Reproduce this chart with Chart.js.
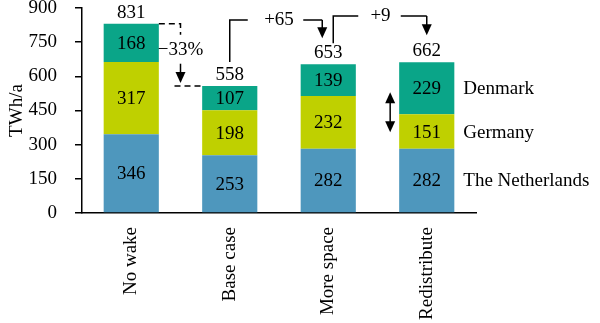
<!DOCTYPE html>
<html>
<head>
<meta charset="utf-8">
<script src="https://cdn.jsdelivr.net/npm/chart.js@4"></script>
<style>
  html, body { margin: 0; padding: 0; background: #fff; }
  #wrap { width: 600px; height: 323px; }
</style>
</head>
<body>
<div id="wrap"><canvas id="energyChart" width="600" height="323"></canvas></div>
<script>
const cases = ["No wake", "Base case", "More space", "Redistribute"];
const netherlands = [346, 253, 282, 282];
const germany = [317, 198, 232, 151];
const denmark = [168, 107, 139, 229];
const totals = [831, 558, 653, 662];
const countryNames = ["The Netherlands", "Germany", "Denmark"];
const yTicks = [0, 150, 300, 450, 600, 750, 900];

const FONT = "'Liberation Serif', 'DejaVu Serif', serif";
const FS = 19;
const colNL = "#4e97bd";
const colDE = "#bfd000";
const colDK = "#0aa588";

function arrowDown(ctx, x, y1, y2) {
  ctx.beginPath();
  ctx.moveTo(x, y1);
  ctx.lineTo(x, y2 - 8);
  ctx.stroke();
  ctx.beginPath();
  ctx.moveTo(x, y2);
  ctx.lineTo(x - 5, y2 - 11);
  ctx.lineTo(x + 5, y2 - 11);
  ctx.closePath();
  ctx.fill();
}

// labels, totals, series names and the change brackets
const annotate = {
  id: "annotate",
  afterDatasetsDraw(chart) {
    const ctx = chart.ctx;
    const x = chart.scales.x, y = chart.scales.y;
    const bw = chart.getDatasetMeta(0).data[0].width;
    ctx.save();
    ctx.fillStyle = "#000";
    ctx.strokeStyle = "#000";
    ctx.font = FS + "px " + FONT;
    ctx.textAlign = "center";
    ctx.textBaseline = "middle";

    // values inside each segment
    chart.data.datasets.forEach((ds, di) => {
      chart.getDatasetMeta(di).data.forEach((bar, i) => {
        ctx.fillText(String(ds.data[i]), bar.x, (bar.y + bar.base) / 2 + 1);
      });
    });

    // totals on top
    totals.forEach((t, i) => {
      ctx.fillText(String(t), x.getPixelForValue(i), y.getPixelForValue(t) - 11);
    });

    // series names beside the last bar
    const last = cases.length - 1;
    ctx.textAlign = "left";
    countryNames.forEach((name, di) => {
      const bar = chart.getDatasetMeta(di).data[last];
      ctx.fillText(name, bar.x + bw / 2 + 9, (bar.y + bar.base) / 2 + 1);
    });
    ctx.textAlign = "center";

    ctx.lineWidth = 1.5;
    const x0 = x.getPixelForValue(0), x1 = x.getPixelForValue(1);
    const x2 = x.getPixelForValue(2), x3 = x.getPixelForValue(3);
    const top = chart.chartArea.top;

    // -33% dashed bracket
    const gx = (x0 + bw / 2 + x1 - bw / 2) / 2;
    const yA = y.getPixelForValue(totals[0]);
    const yB = y.getPixelForValue(totals[1]);
    ctx.setLineDash([6, 4]);
    ctx.beginPath();
    ctx.moveTo(x0 + bw / 2, yA);
    ctx.lineTo(gx, yA);
    ctx.lineTo(gx, yA + 11);
    ctx.stroke();
    ctx.beginPath();
    ctx.moveTo(gx - 6, yB);
    ctx.lineTo(x1 - bw / 2, yB);
    ctx.stroke();
    ctx.setLineDash([]);
    ctx.fillText("\u221233%", gx, yA + 26);
    arrowDown(ctx, gx, yA + 40, yB - 3);

    // +65 bracket
    const hy1 = top + 12;
    const mid1 = (x1 + x2) / 2;
    ctx.beginPath();
    ctx.moveTo(x1, yB - 24);
    ctx.lineTo(x1, hy1);
    ctx.lineTo(x1 + 18, hy1);
    ctx.stroke();
    ctx.beginPath();
    ctx.moveTo(x2 - 25, hy1);
    ctx.lineTo(x2 - 6, hy1);
    ctx.stroke();
    ctx.fillText("+65", mid1, hy1);
    arrowDown(ctx, x2 - 6, hy1, y.getPixelForValue(totals[2]) - 26);

    // +9 bracket
    const hy2 = top + 8;
    const mid2 = (x2 + x3) / 2 + 3;
    ctx.beginPath();
    ctx.moveTo(x2 + 5, y.getPixelForValue(totals[2]) - 21);
    ctx.lineTo(x2 + 5, hy2);
    ctx.lineTo(x2 + 30, hy2);
    ctx.stroke();
    ctx.beginPath();
    ctx.moveTo(x3 - 26, hy2);
    ctx.lineTo(x3, hy2);
    ctx.stroke();
    ctx.fillText("+9", mid2, hy2);
    arrowDown(ctx, x3, hy2, y.getPixelForValue(totals[3]) - 27);

    // double arrow at the Germany / Denmark border of the last bar
    const dx = x3 - bw / 2 - 9;
    const by = y.getPixelForValue(netherlands[last] + germany[last]) - 2;
    ctx.beginPath();
    ctx.moveTo(dx, by - 12);
    ctx.lineTo(dx, by + 12);
    ctx.stroke();
    ctx.beginPath();
    ctx.moveTo(dx, by - 20);
    ctx.lineTo(dx - 5, by - 9);
    ctx.lineTo(dx + 5, by - 9);
    ctx.closePath();
    ctx.fill();
    ctx.beginPath();
    ctx.moveTo(dx, by + 20);
    ctx.lineTo(dx - 5, by + 9);
    ctx.lineTo(dx + 5, by + 9);
    ctx.closePath();
    ctx.fill();

    ctx.restore();
  }
};

new Chart("energyChart", {
  type: "bar",
  data: {
    labels: cases,
    datasets: [
      { label: countryNames[0], data: netherlands, backgroundColor: colNL },
      { label: countryNames[1], data: germany, backgroundColor: colDE },
      { label: countryNames[2], data: denmark, backgroundColor: colDK }
    ]
  },
  options: {
    responsive: false,
    animation: false,
    layout: { padding: { top: 8, right: 124, left: 6, bottom: 0 } },
    datasets: { bar: { categoryPercentage: 1, barPercentage: 0.56 } },
    plugins: { legend: { display: false }, tooltip: { enabled: false } },
    scales: {
      x: {
        stacked: true,
        grid: { display: false, drawTicks: false },
        border: { color: "#000", width: 1.5 },
        ticks: {
          color: "#000",
          font: { family: FONT, size: FS },
          minRotation: 90,
          maxRotation: 90,
          padding: 14
        },
        afterFit: s => { s.height = 110; s.paddingLeft = 0; s.paddingRight = 0; }
      },
      y: {
        stacked: true,
        min: 0,
        max: 900,
        afterBuildTicks: s => { s.ticks = yTicks.map(v => ({ value: v })); },
        grid: { drawOnChartArea: false, tickLength: 7, color: "#000", lineWidth: 1.5 },
        border: { color: "#000", width: 1.5 },
        ticks: {
          color: "#000",
          font: { family: FONT, size: FS },
          padding: 18
        },
        title: {
          display: true,
          text: "TWh/a",
          color: "#000",
          font: { family: FONT, size: FS },
          padding: { top: 0, bottom: 2 }
        },
        afterFit: s => { s.width = 76; s.paddingTop = 0; s.paddingBottom = 0; }
      }
    }
  },
  plugins: [annotate]
});
</script>
</body>
</html>
